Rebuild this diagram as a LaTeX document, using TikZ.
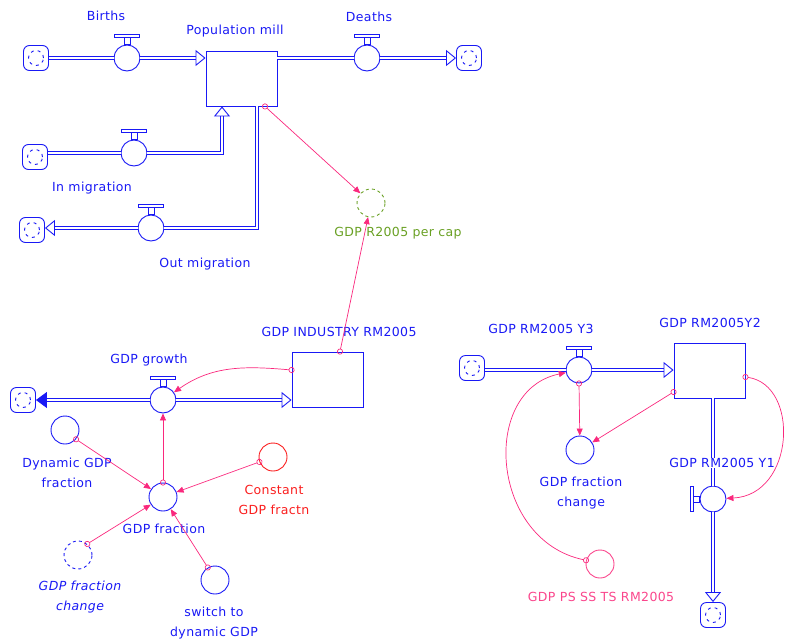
\documentclass[tikz,border=0pt]{standalone}
\usepackage{fontspec}
\newfontfamily\vensimfont[LetterSpace=3]{DejaVu Sans}
\usetikzlibrary{arrows.meta,positioning}
\definecolor{flowblue}{RGB}{25,25,245}
\definecolor{linkpink}{RGB}{250,40,125}
\definecolor{auxgreen}{RGB}{105,160,35}
\definecolor{auxred}{RGB}{250,30,30}
\definecolor{auxpink}{RGB}{250,70,140}

\begin{document}
\begin{tikzpicture}[x=1pt, y=-1pt,
    every node/.style={inner sep=0pt},
    lbl/.style={font=\vensimfont\fontsize{12.5}{20}\selectfont, text=flowblue, align=center},
    lblit/.style={lbl, font=\vensimfont\itshape\fontsize{12.5}{20}\selectfont},
    stock/.style={draw=flowblue, line width=0.9pt, minimum width=71pt, minimum height=55pt},
    valve/.style={circle, draw=flowblue, fill=white, line width=0.9pt, minimum size=26pt},
    aux/.style={circle, draw=flowblue, line width=0.9pt, minimum size=28pt},
    cloud/.style={draw=flowblue, line width=0.9pt, rounded corners=6pt, minimum size=25pt,
        path picture={\draw[flowblue, dash pattern=on 3pt off 4pt, line width=0.9pt] (path picture bounding box.center) circle (7.5pt);}},
    pipe/.style={draw=flowblue, line width=1pt, double=white, double distance=2.2pt},
    flowtip/.style={-{Triangle[open, length=10pt, width=16pt, line width=0.9pt]}},
    link/.style={draw=linkpink, line width=0.7pt, shorten <=-3pt,
        {Circle[open, length=6pt, line width=0.7pt]}-{Triangle[length=7pt, width=6pt]}},
    handle/.style={draw=flowblue, fill=white, line width=0.8pt}
]
\useasboundingbox (0,0) rectangle (787,643);

% population
\node[stock] (popmill) at (241.5,78.5) {};
\node[lbl] (popmilllbl) at (235,31) {Population mill};
\node[cloud] (cbirth) at (36,58) {};
\node[valve] (births) at (127,58) {};
\node[lbl] (birthslbl) at (106,16) {Births};
\node[valve] (deaths) at (367,58) {};
\node[lbl] (deathslbl) at (369,17) {Deaths};
\node[cloud] (cdeath) at (469,58) {};
\node[cloud] (cin) at (35,157) {};
\node[valve] (inmig) at (134,153) {};
\node[lbl] (inmiglbl) at (92,188) {In migration};
\node[cloud] (cout) at (32,230) {};
\node[valve] (outmig) at (151,228) {};
\node[lbl] (outmiglbl) at (205,264) {Out migration};
\node[aux, draw=auxgreen, dashed] (percap) at (371,203) {};
\node[lbl, text=auxgreen] (percaplbl) at (398,233) {GDP R2005 per cap};

\draw[pipe] (cbirth) -- (births);
\draw[pipe, flowtip] (births) -- (births -| popmill.west);
\draw[pipe] (births -| popmill.east) -- (deaths);
\draw[pipe, flowtip] (deaths) -- (cdeath);
\draw[pipe] (cin.east |- inmig) -- (inmig);
\draw[pipe, flowtip] (inmig) -| ([xshift=-19.5pt]popmill.south);
\draw[pipe] ([xshift=15.5pt]popmill.south) |- (outmig);
\draw[pipe, flowtip] (outmig) -- (outmig -| cout.east);

% GDP industry
\node[stock] (gdpind) at (327.5,379.5) {};
\node[lbl] (gdpindlbl) at (339,332) {GDP INDUSTRY RM2005};
\node[valve] (growth) at (163,400) {};
\node[lbl] (growthlbl) at (149,360) {GDP growth};
\node[cloud] (cgrowth) at (23,400) {};
\node[aux] (dyn) at (65,430) {};
\node[lbl] (dynlbl) at (67,472.5) {Dynamic GDP\\fraction};
\node[aux] (gfrac) at (163,497) {};
\node[lbl] (gfraclbl) at (164,529) {GDP fraction};
\node[aux, draw=auxred] (constfr) at (273,457) {};
\node[lbl, text=auxred] (constfrlbl) at (274,499.5) {Constant\\GDP fractn};
\node[aux, dashed] (fracchg) at (78,555) {};
\node[lblit] (fracchglbl) at (80,597.5) {GDP fraction\\change};
\node[aux] (switch) at (215,580) {};
\node[lbl] (switchlbl) at (214,623) {switch to\\dynamic GDP};

\draw[pipe, flowtip] (growth) -- (growth -| gdpind.west);
\draw[pipe, -{Triangle[length=11pt, width=16pt, line width=0.9pt, fill=flowblue]}] (growth) -- (growth -| cgrowth.east);

% GDP Y1..Y3
\node[cloud] (cy3) at (472,368) {};
\node[valve] (ythree) at (579,370) {};
\node[lbl] (ythreelbl) at (541,329) {GDP RM2005 Y3};
\node[stock] (gdpy2) at (709.5,370.5) {};
\node[lbl] (gdpy2lbl) at (710,323) {GDP RM2005Y2};
\node[valve] (yone) at (713,499) {};
\node[cloud] (cy1) at (713,615) {};
\node[aux] (fracchg2) at (580,450) {};
\node[lbl] (fracchg2lbl) at (581,493) {GDP fraction\\change};
\node[aux, draw=auxpink] (psss) at (600,564) {};
\node[lbl, text=auxpink] (pssslbl) at (601,597) {GDP PS SS TS RM2005};

\draw[pipe] (cy3.east |- ythree) -- (ythree);
\draw[pipe, flowtip] (ythree) -- (ythree -| gdpy2.west);
\draw[pipe] (gdpy2.south -| yone) -- (yone);
\draw[pipe, flowtip] (yone) -- (yone |- cy1.north);
\node[lbl, fill=white] (yonelbl) at (722,463) {GDP RM2005 Y1};

% valve handles
\foreach \v in {births,deaths,inmig,outmig,growth,ythree}{
  \draw[handle] ([xshift=-3pt]\v.north) rectangle ([xshift=3pt,yshift=7pt]\v.north);
  \draw[handle] ([xshift=-12.5pt,yshift=7pt]\v.north) rectangle ([xshift=12.5pt,yshift=10pt]\v.north);
}
\draw[handle] ([yshift=-3pt]yone.west) rectangle ([xshift=-6pt,yshift=3pt]yone.west);
\draw[handle] ([xshift=-6pt,yshift=-12.5pt]yone.west) rectangle ([xshift=-9pt,yshift=12.5pt]yone.west);

% information links
\draw[link] ([xshift=23.5pt]popmill.south) -- (percap);
\draw[link] ([xshift=12.5pt]gdpind.north) -- (percap);
\draw[link] ([yshift=9.5pt]gdpind.west) to[out=175, in=35] (growth);
\draw[link] (gfrac) -- (growth);
\draw[link] (dyn.-40) -- (gfrac);
\draw[link] (constfr.200) -- (gfrac);
\draw[link] (fracchg.50) -- (gfrac);
\draw[link] (switch.120) -- (gfrac);
\draw[link] (ythree.south) -- (fracchg2);
\draw[link] ([yshift=-21.5pt]gdpy2.west) -- (fracchg2);
\draw[link] ([yshift=-6.5pt]gdpy2.east) .. controls (800,385) and (795,495) .. (yone);
\draw[link] (psss.165) .. controls (490,540) and (480,390) .. (ythree);

\end{tikzpicture}
\end{document}
